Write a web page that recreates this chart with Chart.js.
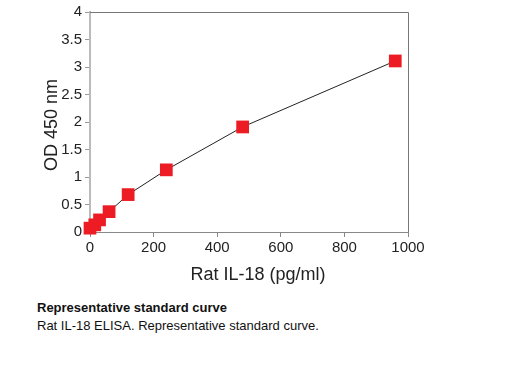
<!DOCTYPE html>
<html>
<head>
<meta charset="utf-8">
<script src="https://cdn.jsdelivr.net/npm/chart.js@4"></script>
<style>
  body { margin: 0; background: #fff; font-family: "Liberation Sans", Arial, sans-serif; }
  #wrap { position: absolute; left: 0; top: 0; width: 523px; height: 292px; }
  .cap { position: absolute; left: 37px; font-size: 13px; color: #111; }
</style>
</head>
<body>
<div id="wrap"><canvas id="curve"></canvas></div>
<div class="cap" style="top:300px;font-weight:bold;">Representative standard curve</div>
<div class="cap" style="top:318px;">Rat IL-18 ELISA. Representative standard curve.</div>
<script>
// standard concentrations (pg/ml) and OD readings
const conc = [0, 15, 30, 60, 120, 240, 480, 960];
const od = [0.07, 0.13, 0.22, 0.37, 0.68, 1.13, 1.91, 3.11];
const yTicks = [0, 0.5, 1, 1.5, 2, 2.5, 3, 3.5, 4];
const xTicks = [0, 200, 400, 600, 800, 1000];
const xTitle = 'Rat IL-18 (pg/ml)';
const yTitle = 'OD 450 nm';

// top and right frame lines, plus the axis titles
const frame = {
  id: 'frame',
  afterDraw(chart) {
    const { ctx, chartArea: a } = chart;
    ctx.save();
    ctx.strokeStyle = '#777';
    ctx.lineWidth = 1;
    ctx.beginPath();
    ctx.moveTo(a.left, a.top + 0.5);
    ctx.lineTo(a.right + 0.5, a.top + 0.5);
    ctx.lineTo(a.right + 0.5, a.bottom);
    ctx.stroke();

    ctx.fillStyle = '#222';
    ctx.font = '18px "Liberation Sans"';
    ctx.textAlign = 'center';
    ctx.textBaseline = 'middle';
    ctx.fillText(xTitle, (a.left + a.right) / 2 + 9, a.bottom + 43);
    ctx.translate(52, (a.top + a.bottom) / 2 + 3);
    ctx.rotate(-Math.PI / 2);
    ctx.fillText(yTitle, 0, 0);
    ctx.restore();
  }
};

new Chart(document.getElementById('curve'), {
  type: 'line',
  data: {
    datasets: [{
      data: conc.map((c, i) => ({ x: c, y: od[i] })),
      borderColor: '#222',
      borderWidth: 1,
      pointStyle: 'rect',
      pointRadius: 9,
      pointHoverRadius: 9,
      pointBackgroundColor: '#ed1c24',
      pointBorderWidth: 0,
      clip: false
    }]
  },
  options: {
    responsive: true,
    maintainAspectRatio: false,
    animation: false,
    layout: { padding: { left: 0, right: 115, top: 11, bottom: 0 } },
    plugins: { legend: { display: false }, tooltip: { enabled: false } },
    scales: {
      x: {
        type: 'linear',
        min: 0, max: 1000,
        afterBuildTicks: s => { s.ticks = xTicks.map(v => ({ value: v })); },
        afterFit: s => { s.height = 60; },
        grid: { drawOnChartArea: false, drawTicks: true, tickLength: 5, color: '#888' },
        border: { color: '#888', width: 1 },
        ticks: { color: '#222', font: { size: 15, family: 'Liberation Sans' }, padding: 2, maxRotation: 0, callback: v => String(v) }
      },
      y: {
        min: 0, max: 4,
        afterBuildTicks: s => { s.ticks = yTicks.map(v => ({ value: v })); },
        afterFit: s => { s.width = 90; },
        grid: { drawOnChartArea: false, drawTicks: true, tickLength: 5, color: '#999' },
        border: { color: '#bbb', width: 2 },
        ticks: { color: '#222', font: { size: 15, family: 'Liberation Sans' }, padding: 3, callback: v => String(v) }
      }
    }
  },
  plugins: [frame]
});
</script>
</body>
</html>
